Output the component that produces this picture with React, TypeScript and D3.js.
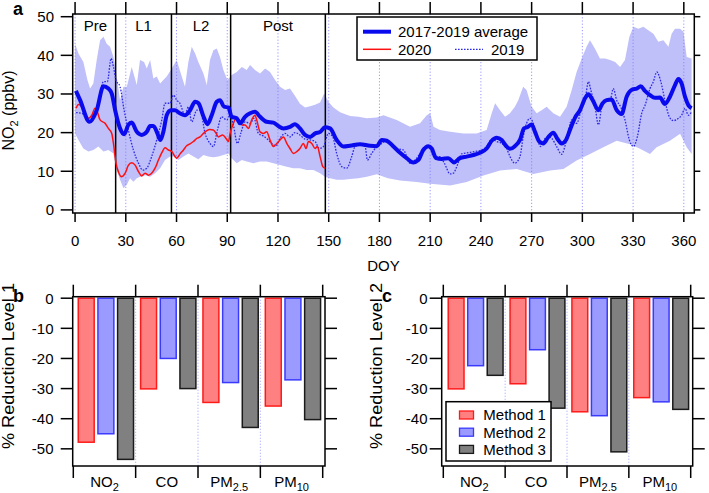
import { scaleLinear, scaleBand, line, curveMonotoneX, curveLinearClosed } from "d3";

// ---------- panel a data (DOY, NO2 ppbv) ----------
const doyTicks = [0, 30, 60, 90, 120, 150, 180, 210, 240, 270, 300, 330, 360];
const no2Ticks = [0, 10, 20, 30, 40, 50];
const phaseBounds = [0, 24, 57, 92, 148];
const phaseLabels = ["Pre", "L1", "L2", "Post"];

const avg3yr: [number, number][] = [
  [0.5, 30.8], [3, 28.4], [8.5, 22.8], [12.8, 25.8], [16.8, 32], [19.7, 31.4], [21.7, 30.1], [23.7, 25.8],
  [26.6, 21.1], [29, 19.6], [31.5, 22], [33.5, 22.6], [36.5, 20.2], [39.4, 19.4], [42.4, 20.2], [44.4, 21.7],
  [46.3, 21.7], [48.7, 19.8], [50.3, 18.1], [52.2, 20.2], [54.2, 24.5], [56.6, 25.8], [59.1, 25.8], [62, 25],
  [65, 24.5], [68, 25.8], [71, 28], [73, 27.6], [76, 24.1], [78.3, 22.2], [80.8, 24.5], [83.8, 28],
  [85.7, 28.4], [88.1, 26.7], [90.7, 26.5], [92.6, 24.1], [95.6, 23.7], [97.6, 22.4], [100.5, 24.1], [103.5, 25],
  [106.4, 25.4], [109.4, 24.1], [113.3, 22.8], [117.3, 22.6], [120.2, 21.7], [123.2, 21.1], [127.1, 21.5], [130, 22.2],
  [133, 21.1], [136, 19.4], [139, 18.9], [142, 19.8], [145, 20.2], [147.8, 21.4], [150.8, 21.1], [154.7, 18.1],
  [158.7, 16.4], [162.6, 16.6], [168.5, 17], [174.4, 16.6], [178.4, 16.5], [181.4, 18.1], [184.3, 17.9], [188.3, 16.4],
  [192.2, 14.8], [196.1, 13.4], [200, 12.3], [203, 12.9], [205.9, 15.5], [208.9, 16.5], [210.9, 15.9], [213.5, 13.4],
  [216.8, 13.2], [220.7, 13.4], [224.1, 12.3], [227.6, 13.4], [231.6, 13.8], [235.5, 14.2], [239.5, 14.8], [243.4, 15.9],
  [246.4, 17.9], [249.3, 18.7], [252.3, 18.1], [255.2, 16.4], [257.2, 15.8], [260.1, 16.5], [263.1, 18.1], [265.5, 21.1],
  [267.4, 21.4], [270, 22.1], [272, 20.2], [274.5, 17.7], [276.9, 17.2], [279.8, 18.8], [282.8, 20], [285.1, 18.5],
  [287.7, 17.2], [290.3, 18.1], [293, 21.1], [295.7, 23.9], [298.6, 25.8], [301.6, 28.9], [303.6, 29.9], [306.1, 28.4],
  [309.5, 25.8], [312, 27.6], [314.4, 28.4], [317.3, 28.6], [320.3, 25.8], [323.2, 24.8], [326.2, 29.3], [329.7, 31.2],
  [332.1, 31.4], [334.5, 32], [337, 30.8], [340, 29.7], [342.9, 29], [345.9, 29.1], [348.8, 27.4], [351.8, 29.3],
  [354.8, 32.3], [356.8, 33.9], [358.7, 32.7], [360.7, 29.3], [362.7, 27.1], [364.6, 26.3],
];

const bandUpper: [number, number][] = [
  [0, 43], [2, 40.5], [4.9, 38.3], [7.3, 33.6], [8.9, 31.4], [10.8, 32.7], [12.8, 38.8], [14.8, 43.9],
  [16.8, 44.8], [18.7, 43], [20.7, 42.2], [22.7, 39.6], [24.6, 34.5], [26.6, 28.4], [28.6, 31.9], [30.6, 31.9],
  [33.5, 37], [36.5, 32.3], [38.4, 38.8], [40.8, 38.3], [42.4, 36.6], [44.4, 38.8], [46.3, 34], [48.3, 34.5],
  [50.3, 32.7], [52.2, 33.6], [54.2, 34.5], [57.2, 36.6], [60.1, 38.8], [63.1, 34.5], [65, 31.9], [67, 38.3],
  [69, 42.2], [71, 40.5], [72.9, 38.3], [75.9, 35.3], [77.9, 32.3], [79.8, 38.8], [81.8, 41.3], [83.8, 41.8],
  [85.7, 39.6], [87.7, 36.2], [90.1, 33.6], [92.6, 34.9], [95.6, 35.7], [98.6, 37], [101.5, 36.2], [103.5, 37.5],
  [106.4, 36.2], [109.4, 35.3], [112.4, 36.6], [115.3, 35.7], [118.3, 33.6], [121.2, 31.9], [124.2, 31], [127.1, 31.4],
  [130.1, 29.5], [133, 27.5], [136, 26.5], [139, 26.8], [141.9, 27.2], [144.9, 27.8], [147.3, 30.1], [149.8, 28],
  [152.8, 26.5], [156.7, 25.3], [162.6, 24.3], [167.6, 24.1], [172.5, 23.7], [178.4, 23.9], [182.4, 24.5], [190.2, 23.3],
  [198.1, 21.5], [204, 22.4], [208, 24.5], [210, 25], [212, 21.5], [215.8, 20.7], [221.8, 20.2], [229.6, 19.8],
  [237.5, 19.8], [243.4, 20.7], [246.4, 25], [248.4, 27.6], [251.3, 25.8], [254.3, 24.1], [257.2, 25], [260.1, 26.7],
  [262.1, 28.4], [265, 31.9], [267, 31], [270, 26.7], [273, 25], [275.9, 25.8], [278.9, 26.7], [282.8, 25],
  [286.8, 24.1], [290.7, 26.7], [293.7, 31], [296.6, 35.7], [299.6, 39.2], [302.5, 42.2], [304.5, 43.9], [307.4, 41.8],
  [310.4, 39.2], [313.4, 39.2], [316.4, 38.8], [319.4, 38.3], [322.3, 37], [325.2, 38.8], [327.8, 44.8], [330.2, 47.4],
  [333.1, 46.9], [336.1, 47.4], [339, 46.5], [342, 45.6], [344.9, 43.5], [347.9, 43.9], [350.9, 42.2], [352.8, 45.6],
  [354.8, 46.9], [357.8, 46.9], [359.8, 46.1], [361.7, 39.6], [364.6, 39.2],
];

const bandLower: [number, number][] = [
  [0, 19.8], [2, 18.1], [4.9, 15.9], [7.9, 15.1], [10.8, 15.5], [13.8, 16.4], [16.8, 15.1], [19.7, 15.5],
  [22.7, 14.6], [24.6, 10.3], [26.6, 7.8], [28.6, 5.6], [30.6, 6.5], [32.5, 8.2], [34.5, 7.3], [36.5, 8.2],
  [38.4, 8.6], [41.4, 9], [44.4, 8.6], [47.3, 9.5], [50.3, 10.8], [53.2, 12.9], [56.2, 13.8], [58.2, 13.8],
  [61.1, 12.9], [64.1, 13.8], [67, 14.6], [70, 13.8], [72.9, 13.1], [75.9, 14.2], [78.8, 13.8], [81.8, 13.6],
  [84.8, 13.8], [87.7, 14.2], [90.7, 14.6], [92.6, 13.4], [95.6, 12.1], [98.6, 12.9], [101.5, 12.5], [105.5, 12.1],
  [109.4, 12.5], [113.3, 12.5], [117.3, 12.1], [121.2, 11.6], [125.2, 11.2], [129.1, 10.8], [133, 10.8], [137, 10.3],
  [141, 10.3], [144.9, 9.5], [147.8, 8.6], [150.8, 8.2], [154.7, 7.8], [158.7, 7.8], [162.6, 8], [167.6, 8.2],
  [172.5, 8.6], [178.4, 9.2], [185, 8.2], [192.2, 7.6], [202, 7.2], [210, 6.8], [221.8, 6.3], [231.6, 7.2],
  [241.5, 8.9], [251.3, 10.2], [261.2, 10.6], [271, 9.3], [280.9, 10.2], [288.8, 10.6], [296.6, 12.8], [304.5, 14.5],
  [312.4, 16.2], [320.3, 17.9], [328.2, 17], [334.1, 15.8], [340, 14.5], [343.9, 16.2], [351.8, 17.9], [357.8, 19.7],
  [361.7, 16.2], [364.6, 14.5],
];

const series2019: [number, number][] = [
  [0.6, 25.2], [4, 25], [6.9, 23.7], [9.9, 24.1], [12.8, 25.8], [16.8, 33.2], [19.1, 33.2], [21.3, 39.2],
  [22.7, 37], [24.2, 33.6], [26.6, 31.9], [29, 25.8], [31.5, 20.7], [34.5, 15.5], [37.5, 12.1], [40, 10.3],
  [42.4, 10.8], [45.3, 13.8], [48.3, 18.1], [51.3, 23.3], [53.2, 27.6], [56.2, 27.6], [58.2, 29.7], [60.1, 28.4],
  [62, 27.6], [65, 24.5], [67, 26.7], [69, 22.8], [72, 25.8], [74, 25.8], [76.9, 19.8], [79.8, 17.2],
  [81.8, 16.4], [84.2, 20.7], [86.7, 24.1], [89.7, 23.3], [91.7, 24.5], [93.6, 22], [96, 17.2], [98, 19.8],
  [100.5, 22.8], [103.5, 22.4], [105.8, 23.7], [108.4, 19.8], [111.4, 19.1], [114.3, 18.1], [116.3, 17.2], [118.9, 16.6],
  [121.2, 18.5], [124.2, 19.8], [127.1, 18.9], [130, 20], [133, 19.4], [136, 18.3], [139, 18.1], [141.9, 17.7],
  [144.5, 15.9], [146.9, 16.4], [149.8, 19.8], [152.4, 18.9], [154.7, 14.6], [157.7, 11.2], [160.7, 10.8], [163.6, 13.8],
  [165.6, 16.4], [168.5, 16.8], [171.5, 16.4], [172.9, 12.9], [175.4, 14.6], [178.4, 16.4], [181.4, 17.2], [184.3, 18.1],
  [187.3, 16.4], [190.2, 15.9], [194.2, 15.5], [198.1, 12.1], [201.1, 12.9], [204, 14.6], [207, 16.4], [209.6, 16.4],
  [212, 13.8], [215.5, 13.8], [218.4, 12.1], [221.8, 9.3], [223.7, 9.5], [226.1, 11.6], [228.6, 14.5], [232.6, 14.8],
  [236.5, 15.1], [240.5, 15.5], [243.4, 16.4], [246.4, 18.3], [249.3, 17.7], [252.3, 17.2], [255.2, 15.9], [257.2, 13.8],
  [260.1, 12.1], [263.1, 13.8], [265, 18.9], [267, 22.4], [269.1, 23.7], [271, 22.4], [273.4, 18.3], [275.4, 16.4],
  [277.3, 18.1], [279.8, 18.9], [281.9, 18.5], [284.8, 16.4], [287.7, 14.4], [290.7, 18.1], [293.7, 23.3], [296.6, 22.4],
  [299.6, 26.3], [301.6, 28.4], [303.6, 33.2], [305, 31], [307.5, 26.7], [309.5, 22], [311.5, 26.7], [314, 28.4],
  [316.4, 28.4], [318.3, 31.4], [320.3, 28.4], [322.6, 26.7], [325.2, 23.3], [327.8, 18.1], [330.2, 16.4], [332.5, 18.9],
  [335.1, 25], [337.1, 27.1], [340, 31.4], [342, 33.2], [344, 35.7], [346.4, 33.2], [348.8, 28.4], [351.4, 24.1],
  [353.8, 23.1], [356.8, 23.7], [358.7, 24.5], [360.7, 26.3], [362.7, 24.5], [364.6, 25.4],
];

const series2020: [number, number][] = [
  [0.6, 26.3], [2, 27.3], [4, 26.7], [5.9, 25], [7.9, 23.7], [9.9, 24.5], [11.8, 26.3], [12.8, 25.8],
  [14.8, 23.3], [17.7, 22.4], [19.7, 21.1], [21.7, 19.8], [22.7, 17.2], [24.2, 12.1], [25.6, 9.9], [27.6, 8.6],
  [29.6, 9.5], [31.5, 11.5], [33.5, 12.2], [35.5, 11.6], [37.5, 9.9], [39.4, 8.8], [41.4, 9.5], [43.4, 9],
  [45.3, 9.5], [47.3, 10.8], [49.3, 12.9], [51.3, 14.8], [53.2, 16.1], [55.2, 15.5], [57.2, 15.1], [59.1, 13.8],
  [60.1, 13.4], [62.1, 14.5], [64.1, 15.5], [66, 16.6], [68, 17.1], [70, 17.7], [72, 18.5], [73.9, 18.9],
  [75.9, 19.8], [77.9, 20.5], [79.8, 20.8], [81.8, 20.7], [83.4, 19.8], [84.8, 18.9], [87.3, 19.4], [89.3, 18.5],
  [90.7, 17.7], [91.7, 19.8], [93.6, 22.4], [95.6, 23.7], [97.2, 23.3], [98.6, 22], [100.5, 22], [102.5, 21.1],
  [104.5, 23.3], [106.4, 24.5], [107.4, 23.3], [109.4, 20.2], [111.4, 19.8], [113.3, 20.2], [115.3, 18.1], [117.3, 16.4],
  [119.3, 17.2], [121.2, 18.1], [123.2, 18.9], [125.2, 17.2], [127.1, 15.9], [129.1, 14.6], [131.1, 15.1], [133, 15.9],
  [135, 17.2], [136.6, 15.9], [138, 17.7], [140, 17.2], [141.9, 15.9], [143.3, 16.4], [144.9, 13.8], [146.5, 11.2],
  [147.8, 10.8],
];

// ---------- panels b/c data (% reduction) ----------
const pollutants = ["NO2", "CO", "PM2.5", "PM10"];
const pollutantMain = ["NO", "CO", "PM", "PM"];
const pollutantSub = ["2", "", "2.5", "10"];
const methods = ["Method 1", "Method 2", "Method 3"];
const reductionTicks = [0, -10, -20, -30, -40, -50];

const level1Method1 = [-47.8, -30.1, -34.6, -35.8];
const level1Method2 = [-45, -20, -28, -27.1];
const level1Method3 = [-53.5, -30, -42.9, -40.3];
const level2Method1 = [-30.1, -28.4, -37.7, -33];
const level2Method2 = [-22.4, -17.1, -39, -34.4];
const level2Method3 = [-25.6, -36.5, -51, -36.9];

const methodFill = ["#ff8080", "#9b9bff", "#808080"];
const methodStroke = ["#ff1a1a", "#3a3aff", "#1a1a1a"];

const FONT = "'Liberation Sans', Arial, Helvetica, sans-serif";

// ---------- panel a ----------
const A = { left: 72.7, right: 694.3, top: 14, bottom: 213 };
const xA = scaleLinear().domain([-1.4, 366.2]).range([A.left, A.right]);
const yA = scaleLinear().domain([-0.8, 50.7]).range([A.bottom, A.top]);

const tsLine = line<[number, number]>()
  .x((d) => xA(d[0]))
  .y((d) => yA(d[1]))
  .curve(curveMonotoneX);

const bandPath = line<[number, number]>()
  .x((d) => xA(d[0]))
  .y((d) => yA(d[1]))
  .curve(curveLinearClosed)([...bandUpper, ...bandLower.slice().reverse()]);

function PanelA() {
  return (
    <g>
      <text x={13} y={15} fontSize={18} fontWeight="bold">a</text>
      <path d={bandPath ?? ""} fill="#bfbff9" stroke="none" />
      {doyTicks.map((t) => (
        <line key={"g" + t} x1={xA(t)} x2={xA(t)} y1={A.top} y2={A.bottom}
          stroke="#7c7cff" strokeWidth={0.8} strokeDasharray="1.2,2" />
      ))}
      {phaseBounds.slice(1).map((b) => (
        <line key={"p" + b} x1={xA(b)} x2={xA(b)} y1={A.top} y2={A.bottom} stroke="#000" strokeWidth={1.5} />
      ))}
      {phaseLabels.map((l, i) => (
        <text key={l} x={xA((phaseBounds[i] + phaseBounds[i + 1]) / 2)} y={31} fontSize={15} textAnchor="middle">{l}</text>
      ))}
      <path d={tsLine(series2019) ?? ""} fill="none" stroke="#2a2ae6" strokeWidth={1.3} strokeDasharray="1.6,1.4" />
      <path d={tsLine(series2020) ?? ""} fill="none" stroke="#ff1010" strokeWidth={1.5} />
      <path d={tsLine(avg3yr) ?? ""} fill="none" stroke="#0a0aee" strokeWidth={4} strokeLinejoin="round" />
      {/* frame and ticks */}
      <rect x={A.left} y={A.top} width={A.right - A.left} height={A.bottom - A.top} fill="none" stroke="#000" strokeWidth={1.5} />
      {doyTicks.map((t) => (
        <g key={"xt" + t}>
          <line x1={xA(t)} x2={xA(t)} y1={A.top} y2={A.top - 12} stroke="#000" strokeWidth={1.5} />
          <line x1={xA(t)} x2={xA(t)} y1={A.bottom} y2={A.bottom + 9} stroke="#000" strokeWidth={1.5} />
          <text x={xA(t)} y={246} fontSize={15} textAnchor="middle">{t}</text>
        </g>
      ))}
      {no2Ticks.map((t) => (
        <g key={"yt" + t}>
          <line x1={A.left} x2={A.left - 12} y1={yA(t)} y2={yA(t)} stroke="#000" strokeWidth={1.5} />
          <line x1={A.right} x2={A.right + 6} y1={yA(t)} y2={yA(t)} stroke="#000" strokeWidth={1.5} />
          <text x={54} y={yA(t)} dy="0.36em" fontSize={15} textAnchor="end">{t}</text>
        </g>
      ))}
      <text x={383.5} y={271} fontSize={15} textAnchor="middle">DOY</text>
      <text transform={`translate(13.5, ${(A.top + A.bottom) / 2 - 3}) rotate(-90)`} fontSize={16} textAnchor="middle">
        <tspan>NO</tspan>
        <tspan fontSize={11} dy={4}>2</tspan>
        <tspan dy={-4}> (ppbv)</tspan>
      </text>
      {/* legend */}
      <rect x={357} y={17} width={180} height={43} fill="#fff" stroke="#000" strokeWidth={1.5} />
      <line x1={363} x2={391} y1={31.7} y2={31.7} stroke="#0a0aee" strokeWidth={4} />
      <text x={398} y={31.7} dy="0.36em" fontSize={15}>2017-2019 average</text>
      <line x1={363} x2={391} y1={49.3} y2={49.3} stroke="#ff1010" strokeWidth={1.5} />
      <text x={398} y={49.3} dy="0.36em" fontSize={15}>2020</text>
      <line x1={455} x2={483} y1={49.3} y2={49.3} stroke="#2a2ae6" strokeWidth={1.3} strokeDasharray="1.6,1.4" />
      <text x={491} y={49.3} dy="0.36em" fontSize={15}>2019</text>
    </g>
  );
}

// ---------- panels b/c ----------
const B = { top: 296.7, bottom: 466 };
const yB = scaleLinear().domain([-55.7, 0.5]).range([B.bottom, B.top]);

type BarProps = {
  left: number;
  right: number;
  bandLeft: number;
  bandRight: number;
  values: number[][];
  letter: string;
  letterX: number;
  tickLabelX: number;
  yLabel: string;
  yLabelX: number;
  legend?: boolean;
};

function BarPanel(p: BarProps) {
  const xCat = scaleBand<string>().domain(pollutants).range([p.bandLeft, p.bandRight]).padding(0);
  const xMeth = scaleBand<string>()
    .domain(methods)
    .range([0, xCat.bandwidth()])
    .paddingInner(0.19)
    .paddingOuter(0.18)
    .align(0.7);
  const bounds = [...pollutants.map((c) => xCat(c)!), p.bandRight];
  return (
    <g>
      <text x={p.letterX} y={302} fontSize={18} fontWeight="bold">{p.letter}</text>
      {bounds.slice(1, -1).map((x, i) => (
        <line key={"s" + i} x1={x} x2={x} y1={B.top} y2={B.bottom} stroke="#9a9aff" strokeWidth={0.8} strokeDasharray="1.2,1.8" />
      ))}
      {pollutants.map((c, ci) =>
        methods.map((m, mi) => {
          const v = p.values[mi][ci];
          return (
            <rect key={c + m} x={xCat(c)! + xMeth(m)!} y={yB(0)} width={xMeth.bandwidth()} height={yB(v) - yB(0)}
              fill={methodFill[mi]} stroke={methodStroke[mi]} strokeWidth={1.5} />
          );
        })
      )}
      <rect x={p.left} y={B.top} width={p.right - p.left} height={B.bottom - B.top} fill="none" stroke="#000" strokeWidth={1.5} />
      {bounds.map((x, i) => (
        <g key={"xt" + i}>
          <line x1={x} x2={x} y1={B.top} y2={B.top - 12} stroke="#000" strokeWidth={1.5} />
          <line x1={x} x2={x} y1={B.bottom} y2={B.bottom + 12} stroke="#000" strokeWidth={1.5} />
        </g>
      ))}
      {pollutants.map((c, i) => (
        <text key={"cl" + c} x={xCat(c)! + xCat.bandwidth() / 2} y={486.5} fontSize={15} textAnchor="middle">
          <tspan>{pollutantMain[i]}</tspan>
          {pollutantSub[i] && <tspan fontSize={11} dy={4}>{pollutantSub[i]}</tspan>}
        </text>
      ))}
      {reductionTicks.map((t) => (
        <g key={"yt" + t}>
          <line x1={p.left} x2={p.left - 12} y1={yB(t)} y2={yB(t)} stroke="#000" strokeWidth={1.5} />
          <line x1={p.right} x2={p.right + 12} y1={yB(t)} y2={yB(t)} stroke="#000" strokeWidth={1.5} />
          <text x={p.tickLabelX} y={yB(t)} dy="0.36em" fontSize={15} textAnchor="end">{t}</text>
        </g>
      ))}
      <text transform={`translate(${p.yLabelX}, 366) rotate(-90)`} fontSize={16.5} textAnchor="middle"
        textLength={166} lengthAdjust="spacingAndGlyphs">{p.yLabel}</text>
      {p.legend && (
        <g>
          <rect x={446} y={401.7} width={105} height={59.3} fill="#fff" stroke="#000" strokeWidth={1.5} />
          {methods.map((m, i) => (
            <g key={"lg" + m}>
              <rect x={459.5} y={411 + i * 17.2} width={14} height={8} fill={methodFill[i]} stroke={methodStroke[i]} strokeWidth={1.3} />
              <text x={483.3} y={415 + i * 17.2} dy="0.36em" fontSize={15}>{m}</text>
            </g>
          ))}
        </g>
      )}
    </g>
  );
}

export default function App() {
  return (
    <svg width={709} height={493} style={{ position: "absolute", left: 0, top: 0, fontFamily: FONT }} fill="#000">
      <rect width={709} height={493} fill="#fff" />
      <PanelA />
      <BarPanel left={72.7} right={325} bandLeft={73.3} bandRight={322.7}
        values={[level1Method1, level1Method2, level1Method3]} letter="b" letterX={13}
        tickLabelX={53.5} yLabel="% Reduction Level 1" yLabelX={13.5} />
      <BarPanel left={441.7} right={692.7} bandLeft={443.3} bandRight={690.7}
        values={[level2Method1, level2Method2, level2Method3]} letter="c" letterX={382}
        tickLabelX={427.5} yLabel="% Reduction Level 2" yLabelX={381.5} legend />
    </svg>
  );
}
